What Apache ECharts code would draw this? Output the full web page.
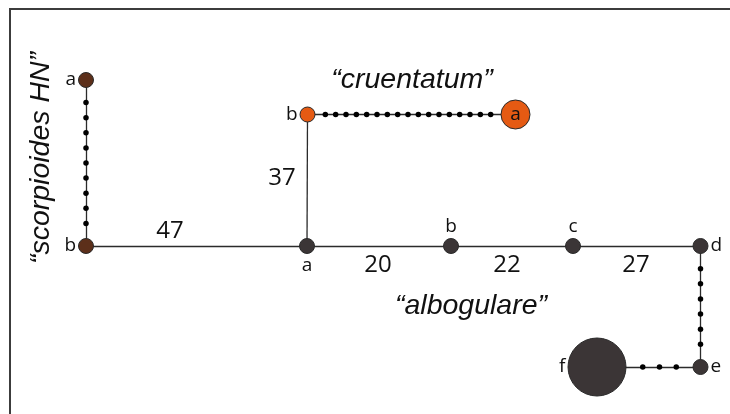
<!DOCTYPE html>
<html>
<head>
<meta charset="utf-8">
<script src="https://cdn.jsdelivr.net/npm/echarts@6/dist/echarts.min.js"></script>
<style>
html,body{margin:0;padding:0;background:#fff;}
#chart{width:730px;height:414px;}
</style>
</head>
<body>
<div id="chart"></div>
<script>
// Haplotype nodes: id, label, group, x, y (layout units), symbol diameter
const nodeIds    = ['sA','sB','cB','cA','aA','aB','aC','aD','aE','aF'];
const nodeLabels = ['a','b','b','a','a','b','c','d','e','f'];
const nodeGroups = ['scorpioides','scorpioides','cruentatum','cruentatum','albogulare','albogulare','albogulare','albogulare','albogulare','albogulare'];
const nodeX      = [86, 86, 307.5, 515.5, 307, 451, 573, 700.5, 700.5, 597];
const nodeY      = [80, 246, 114.5, 114.5, 246, 246, 246, 246, 367, 367];
const nodeSize   = [15, 15, 15, 29, 15, 15, 15, 15, 15, 58];
const labelPos   = ['left','left','left','inside','bottom','top','top','right','right','left'];

// Edges: source, target, number of intermediate mutational steps (small dots)
const edgeSource = ['sA','sB','aA','aA','aB','aC','aD','aE','cB'];
const edgeTarget = ['sB','aA','cB','aB','aC','aD','aE','aF','cA'];
const edgeSteps  = [9, 0, 0, 0, 0, 0, 6, 3, 17];

// Numeric edge labels and their positions
const numLabels  = ['47','37','20','22','27'];
const numX       = [170, 282, 378, 507, 636];
const numY       = [231, 178, 265, 265, 265];

// Group titles
const titleText  = ['\u201Ccruentatum\u201D','\u201Calbogulare\u201D','\u201Cscorpioides HN\u201D'];
const titleX     = [412, 471, 41];
const titleY     = [80, 306, 158];
const titleRot   = [0, 0, 90];

const groupColor = {scorpioides:'#5c2f1a', cruentatum:'#e55a13', albogulare:'#3b3536'};

const idx = {};
nodeIds.forEach((id,i)=>idx[id]=i);

const graphData = nodeIds.map((id,i)=>({
  name: id,
  value: [nodeX[i], nodeY[i]],
  symbolSize: nodeSize[i],
  itemStyle: {color: groupColor[nodeGroups[i]], borderColor:'#2a2a2a', borderWidth:1, opacity:1},
  label: {position: labelPos[i]}
}));

const links = edgeSource.map((s,i)=>({source:s, target:edgeTarget[i]}));

// mutation step dots, evenly spaced between node borders
const stepDots = [];
edgeSource.forEach((s,i)=>{
  const n = edgeSteps[i];
  if(!n) return;
  const a = idx[s], b = idx[edgeTarget[i]];
  const dx = nodeX[b]-nodeX[a], dy = nodeY[b]-nodeY[a];
  const L = Math.sqrt(dx*dx+dy*dy);
  const ux = dx/L, uy = dy/L;
  const ra = nodeSize[a]/2, rb = nodeSize[b]/2;
  const sx = nodeX[a]+ux*ra, sy = nodeY[a]+uy*ra;
  const len = L-ra-rb;
  for(let k=1;k<=n;k++){
    const t = len*k/(n+1);
    stepDots.push([sx+ux*t, sy+uy*t]);
  }
});

const numData = numLabels.map((t,i)=>({value:[numX[i],numY[i]], name:t}));
const titleData = titleText.map((t,i)=>({
  value:[titleX[i],titleY[i]], name:t,
  label:{rotate:titleRot[i]}
}));

const chart = echarts.init(document.getElementById('chart'), null, {renderer:'canvas'});
chart.setOption({
  animation:false,
  backgroundColor:'#ffffff',
  grid:{left:0,right:0,top:0,bottom:0},
  xAxis:{type:'value',min:0,max:730,show:false},
  yAxis:{type:'value',min:0,max:414,inverse:true,show:false},
  graphic:[{
    type:'rect',
    shape:{x:10,y:9,width:760,height:450},
    style:{fill:null,stroke:'#3c3c3c',lineWidth:2},
    z:-1
  }],
  series:[
    {
      type:'graph',
      coordinateSystem:'cartesian2d',
      data:graphData,
      links:links,
      label:{
        show:true,
        formatter:(p)=>nodeLabels[p.dataIndex],
        distance:2,
        color:'#111',
        fontFamily:'Open Sans',
        fontSize:19
      },
      lineStyle:{color:'#2b2b2b',width:1.3,opacity:1,curveness:0},
      z:2
    },
    {
      type:'scatter',
      data:stepDots,
      symbolSize:5.5,
      itemStyle:{color:'#000',opacity:1},
      z:3
    },
    {
      type:'scatter',
      data:numData,
      symbolSize:0,
      itemStyle:{opacity:1},
      label:{show:true,position:'inside',formatter:'{b}',color:'#111',fontFamily:'Open Sans',fontSize:24},
      z:4
    },
    {
      type:'scatter',
      data:titleData,
      symbolSize:0,
      itemStyle:{opacity:1},
      label:{show:true,position:'inside',formatter:'{b}',color:'#111',fontFamily:'Liberation Sans',fontStyle:'italic',fontSize:28.5},
      z:4
    }
  ]
});
</script>
</body>
</html>
